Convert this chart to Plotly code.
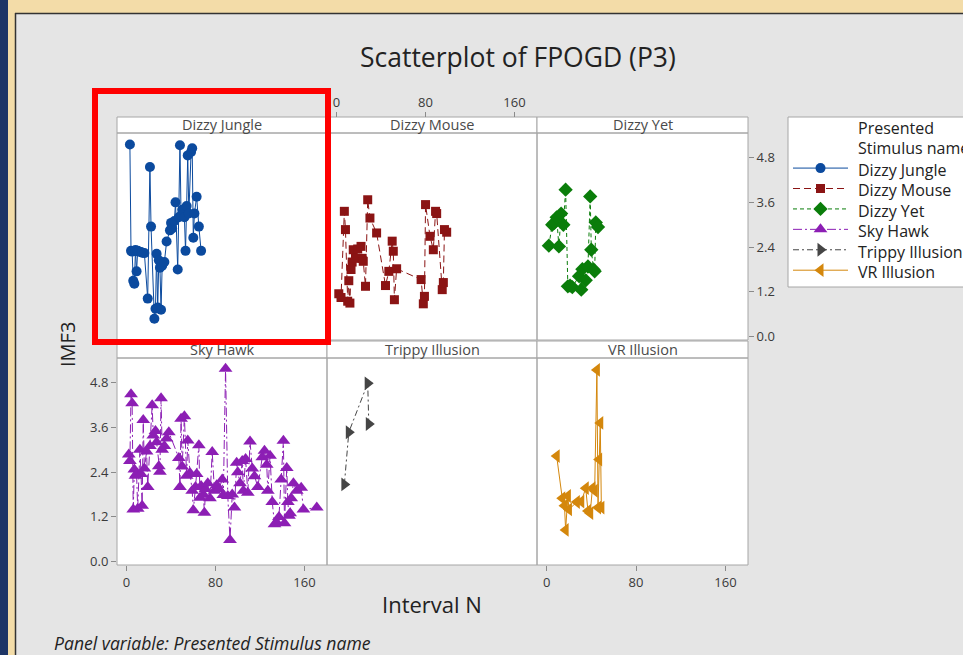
import plotly.graph_objects as go

W, H = 963, 655

# ---------------- data ----------------
panel_names = ["Dizzy Jungle", "Dizzy Mouse", "Dizzy Yet", "Sky Hawk", "Trippy Illusion", "VR Illusion"]

dj_x = [3, 4, 5, 6, 7, 8, 9, 10, 11, 13, 14, 16, 19, 21, 22, 25, 26, 27, 28, 29, 30, 31, 32, 34, 36,
        39, 40, 41, 43, 44, 46, 47, 48, 49, 50, 52, 53, 54, 55, 56, 58, 59, 60, 61, 63, 65, 67]
dj_y = [5.15, 2.30, 2.28, 1.50, 1.42, 2.32, 1.75, 2.30, 2.28, 2.27, 2.25, 2.24, 1.02, 4.55, 2.95,
        0.48, 0.75, 2.22, 0.78, 2.05, 1.85, 0.72, 1.90, 2.00, 2.55, 2.85, 3.05, 2.90, 3.10, 3.60,
        1.80, 3.20, 5.13, 3.25, 3.40, 3.20, 2.30, 3.50, 4.86, 3.30, 4.95, 5.05, 2.65, 3.30, 3.75,
        2.95, 2.30]

dm_x = [2, 4, 7, 8, 10, 11, 12, 13, 14, 15, 17, 19, 22, 23, 24, 26, 28, 30, 36, 44, 47, 50, 51,
        52, 54, 76, 78, 79, 80, 84, 87, 89, 90, 95, 96, 97, 99]
dm_y = [1.15, 1.05, 3.36, 2.87, 0.95, 1.50, 0.90, 1.80, 2.00, 2.33, 2.10, 2.35, 2.42, 2.10, 2.02,
        1.35, 3.67, 3.18, 2.78, 1.37, 1.75, 2.56, 2.29, 0.99, 1.82, 1.53, 0.88, 1.08, 3.54, 2.69,
        2.33, 3.36, 3.30, 1.26, 1.45, 2.87, 2.80]

dy_x = [2, 5, 7, 9, 11, 13, 15, 17, 19, 21, 23, 29, 31, 32, 35, 37, 39, 40, 42, 43, 44, 46]
dy_y = [2.44, 3.00, 3.05, 3.20, 2.42, 3.30, 3.00, 3.94, 1.35, 1.37, 1.33, 1.62, 1.26, 1.81, 1.51,
        1.88, 3.76, 2.33, 1.80, 1.75, 3.06, 2.94]

sh_x = [2, 3, 4, 5, 6, 7, 8, 9, 10, 12, 13, 14, 15, 16, 18, 19, 21, 23, 24, 26, 27, 29, 30, 31,
        32, 34, 36, 38, 47, 48, 49, 50, 52, 54, 55, 57, 59, 60, 62, 63, 65, 66, 67, 69, 70, 71, 73,
        75, 77, 79, 81, 83, 86, 87, 89, 91, 93, 95, 97, 99, 100, 102, 104, 105, 107, 109, 111, 113,
        115, 118, 122, 124, 126, 127, 129, 131, 133, 135, 137, 139, 141, 142, 144, 145, 146, 147,
        148, 150, 153, 157, 159, 171]
sh_y = [2.87, 2.70, 4.49, 4.25, 1.40, 2.47, 2.30, 2.35, 1.42, 3.00, 2.35, 1.50, 3.80, 2.50, 2.95,
        2.00, 3.10, 4.19, 3.38, 3.50, 3.20, 2.56, 2.41, 4.38, 3.00, 3.10, 3.30, 3.47, 2.78, 2.00,
        3.83, 2.55, 3.90, 2.30, 3.25, 2.38, 1.90, 1.38, 2.00, 2.35, 3.12, 1.71, 2.03, 1.80, 1.31,
        1.95, 2.10, 1.70, 2.94, 1.90, 2.05, 1.95, 2.20, 1.79, 5.17, 1.76, 0.58, 1.80, 1.45, 2.65,
        2.40, 2.10, 2.70, 1.90, 2.75, 1.85, 3.22, 2.50, 2.29, 2.00, 2.80, 2.97, 2.60, 1.90, 2.84,
        1.60, 1.00, 1.05, 1.20, 2.20, 3.24, 1.03, 2.51, 1.60, 1.23, 1.30, 1.70, 2.10, 1.90, 1.98,
        1.40, 1.45]

ti_x = [7, 11, 28, 29]
ti_y = [2.07, 3.47, 4.78, 3.69]

vr_x = [9, 14, 16, 17, 19, 20, 27, 31, 35, 37, 39, 41, 43, 45, 46, 47, 48, 49]
vr_y = [2.83, 1.70, 1.50, 0.85, 1.76, 1.40, 1.60, 1.61, 1.97, 1.36, 1.30, 1.97, 1.90, 5.14, 1.45,
        2.74, 3.72, 1.45]

x_ticks = [0, 80, 160]
y_ticks = [0.0, 1.2, 2.4, 3.6, 4.8]

# ---------------- styling ----------------
FONT = "Open Sans"
series = [
    (dj_x, dj_y, "#0b4a9e", "circle", "solid", 10),
    (dm_x, dm_y, "#8b1414", "square", "7px,4px", 9),
    (dy_x, dy_y, "#0a7d0a", "diamond", "4px,3px", 11),
    (sh_x, sh_y, "#8c1eb4", "triangle-up", "9px,3px,2px,3px", 12),
    (ti_x, ti_y, "#454545", "triangle-right", "6px,3px,2px,3px", 12),
    (vr_x, vr_y, "#d4870c", "triangle-left", "solid", 12),
]

def PX(x):
    return x / W

def PY(y):
    return 1 - y / H

col_px = [(117, 327), (327, 537), (537, 748)]
row_px = [(133, 340), (358, 565)]
strip_px = [(117, 133), (341, 358)]

fig = go.Figure()

for i, (xs, ys, col, sym, dash, msz) in enumerate(series):
    n = i + 1
    fig.add_trace(go.Scatter(
        x=xs, y=ys, mode="lines+markers", name=" ",
        xaxis=f"x{n}" if n > 1 else "x", yaxis=f"y{n}" if n > 1 else "y",
        line=dict(color=col, width=1, dash=dash),
        marker=dict(color=col, symbol=sym, size=msz, line=dict(width=0)),
        cliponaxis=False,
    ))

layout = dict(
    width=W, height=H,
    margin=dict(l=0, r=0, t=0, b=0, autoexpand=False),
    paper_bgcolor="#e5e5e5", plot_bgcolor="white",
    font=dict(family=FONT, color="#333"),
    showlegend=True,
)

tickfont = dict(family=FONT, size=13, color="#3a3a3a")
XR = [-8.6, 180.2]
YR = [-0.09, 5.46]

for i in range(6):
    n = i + 1
    r, c = divmod(i, 3)
    xk = "xaxis" if n == 1 else f"xaxis{n}"
    yk = "yaxis" if n == 1 else f"yaxis{n}"
    xa = dict(domain=[PX(col_px[c][0]), PX(col_px[c][1])], range=XR, anchor=f"y{n}" if n > 1 else "y",
              showgrid=False, zeroline=False, showline=False, showticklabels=False, ticks="",
              fixedrange=True)
    ya = dict(domain=[PY(row_px[r][1]), PY(row_px[r][0])], range=YR, anchor=f"x{n}" if n > 1 else "x",
              showgrid=False, zeroline=False, showline=False, showticklabels=False, ticks="",
              fixedrange=True)
    if n in (4, 6):
        xa.update(showticklabels=True, ticks="outside", ticklen=5, tickcolor="#8a8a8a",
                  tickvals=x_ticks, tickfont=tickfont, side="bottom")
    if n == 2:
        xa.update(showticklabels=True, ticks="outside", ticklen=5, tickcolor="#8a8a8a",
                  tickvals=x_ticks, tickfont=tickfont, side="top", anchor="free",
                  position=PY(117))
    if n == 3:
        ya.update(showticklabels=True, ticks="outside", ticklen=5, tickcolor="#8a8a8a",
                  tickvals=y_ticks, tickformat=".1f", tickfont=tickfont, side="right")
    if n == 4:
        ya.update(showticklabels=True, ticks="outside", ticklen=5, tickcolor="#8a8a8a",
                  tickvals=y_ticks, tickformat=".1f", tickfont=tickfont, side="left")
    layout[xk] = xa
    layout[yk] = ya

shapes = []
# outer frame / background
shapes.append(dict(type="rect", xref="paper", yref="paper", x0=0, x1=1, y0=PY(13), y1=1,
                   fillcolor="#f3dca8", line=dict(width=0), layer="below"))
shapes.append(dict(type="rect", xref="paper", yref="paper", x0=0, x1=PX(15), y0=0, y1=1,
                   fillcolor="#f3dca8", line=dict(width=0), layer="below"))
shapes.append(dict(type="rect", xref="paper", yref="paper", x0=0, x1=PX(8), y0=0, y1=1,
                   fillcolor="#1e3566", line=dict(width=0), layer="below"))
shapes.append(dict(type="line", xref="paper", yref="paper", x0=PX(15), x1=1, y0=PY(13.5), y1=PY(13.5),
                   line=dict(color="#333", width=1.5), layer="below"))
shapes.append(dict(type="line", xref="paper", yref="paper", x0=PX(15.5), x1=PX(15.5), y0=0, y1=PY(13),
                   line=dict(color="#333", width=1.5), layer="below"))
# legend box
shapes.append(dict(type="rect", xref="paper", yref="paper", x0=PX(788), x1=PX(975), y0=PY(287), y1=PY(117),
                   fillcolor="white", line=dict(color="#a6a6a6", width=1), layer="below"))

for i in range(6):
    r, c = divmod(i, 3)
    shapes.append(dict(type="rect", xref="paper", yref="paper",
                       x0=PX(col_px[c][0]), x1=PX(col_px[c][1]),
                       y0=PY(strip_px[r][1]), y1=PY(strip_px[r][0]),
                       fillcolor="white", line=dict(color="#a6a6a6", width=1), layer="below"))
    shapes.append(dict(type="rect", xref="paper", yref="paper",
                       x0=PX(col_px[c][0]), x1=PX(col_px[c][1]),
                       y0=PY(row_px[r][1]), y1=PY(row_px[r][0]),
                       fillcolor="rgba(0,0,0,0)", line=dict(color="#a6a6a6", width=1), layer="above"))

# red highlight box
shapes.append(dict(type="rect", xref="paper", yref="paper", x0=PX(95), x1=PX(328), y0=PY(342), y1=PY(91),
                   fillcolor="rgba(0,0,0,0)", line=dict(color="#ff0000", width=6), layer="above"))
layout["shapes"] = shapes

annotations = []
for i in range(6):
    r, c = divmod(i, 3)
    annotations.append(dict(text=panel_names[i], xref="paper", yref="paper",
                            x=PX((col_px[c][0] + col_px[c][1]) / 2),
                            y=PY((strip_px[r][0] + strip_px[r][1]) / 2),
                            showarrow=False, xanchor="center", yanchor="middle",
                            font=dict(family=FONT, size=14.5, color="#4a4a4a")))
annotations.append(dict(text="Scatterplot of FPOGD (P3)", xref="paper", yref="paper",
                        x=PX(518), y=PY(57), showarrow=False, xanchor="center", yanchor="middle",
                        font=dict(family=FONT, size=26.5, color="#222")))
annotations.append(dict(text="IMF3", xref="paper", yref="paper", x=PX(67), y=PY(345),
                        showarrow=False, textangle=-90, xanchor="center", yanchor="middle",
                        font=dict(family=FONT, size=20, color="#222")))
annotations.append(dict(text="Interval N", xref="paper", yref="paper", x=PX(432), y=PY(604),
                        showarrow=False, xanchor="center", yanchor="middle",
                        font=dict(family=FONT, size=22, color="#222")))
annotations.append(dict(text="<i>Panel variable: Presented Stimulus name</i>", xref="paper", yref="paper",
                        x=PX(52), y=PY(643), showarrow=False, xanchor="left", yanchor="middle",
                        font=dict(family=FONT, size=17.6, color="#222")))
legend_lines = ["Presented", "Stimulus name"]
for k, t in enumerate(legend_lines):
    annotations.append(dict(text=t, xref="paper", yref="paper", x=PX(856), y=PY(128 + 20.4 * k),
                            showarrow=False, xanchor="left", yanchor="middle",
                            font=dict(family=FONT, size=16, color="#222")))
for k, t in enumerate(panel_names):
    annotations.append(dict(text=t, xref="paper", yref="paper", x=PX(856), y=PY(170 + 20.4 * k),
                            showarrow=False, xanchor="left", yanchor="middle",
                            font=dict(family=FONT, size=16, color="#222")))
layout["annotations"] = annotations

layout["legend"] = dict(
    x=PX(788), y=PY(117), xanchor="left", yanchor="top",
    bgcolor="rgba(0,0,0,0)", borderwidth=0,
    font=dict(family=FONT, size=13.4, color="#222"),
    title=dict(text="\u00a0<br>\u00a0", font=dict(family=FONT, size=13.8), side="top"),
    itemwidth=55, tracegroupgap=0,
)

fig.update_layout(**layout)
fig.write_html("out.html", config={"displayModeBar": False},
               post_script="document.body.style.margin='0';")
